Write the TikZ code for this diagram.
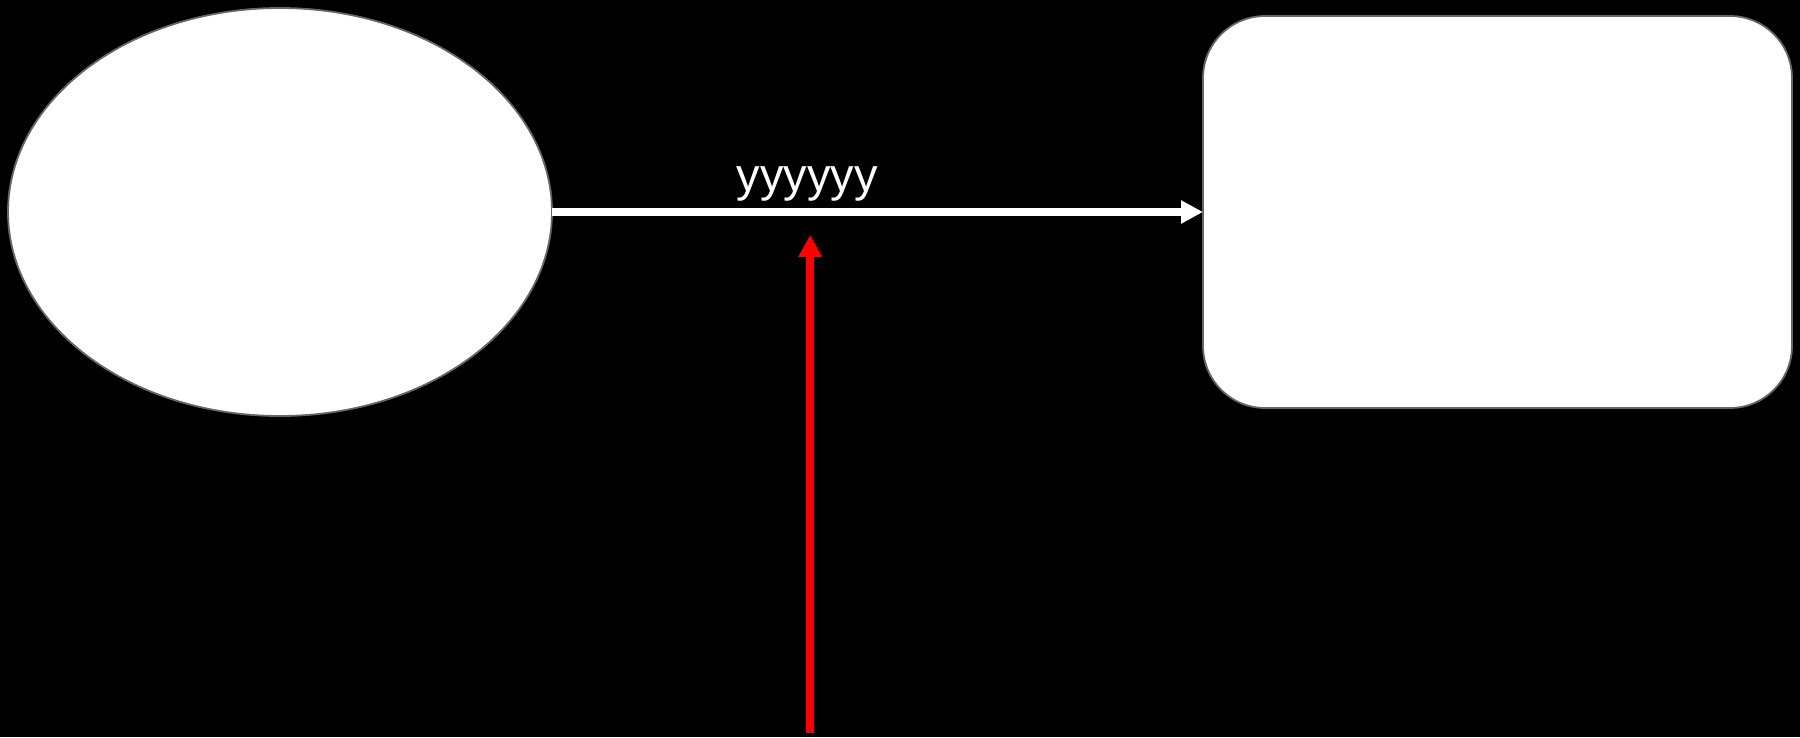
\documentclass[tikz,border=0pt]{standalone}
\usepackage{fontspec}
\setmainfont{Liberation Sans}
\usetikzlibrary{arrows.meta,shapes.geometric}
\begin{document}
\begin{tikzpicture}[x=1pt,y=-1pt,
  shapebox/.style={draw=black!60, fill=white, line width=1.8pt, inner sep=0pt, outer sep=0pt},
  conn/.style={line width=#1, -{Triangle[length=22pt,width=22pt]}},
  lbltext/.style={text=white, font=\fontsize{47}{56}\selectfont, inner sep=0pt}]
\fill[black] (0,0) rectangle (1800,737);
\useasboundingbox (0,0) rectangle (1800,737);
\node[shapebox, ellipse, minimum width=544pt, minimum height=408pt] (ell) at (280,212) {};
\node[shapebox, rectangle, rounded corners=62pt, minimum width=589pt, minimum height=392pt] (box) at (1497.5,212) {};
\draw[conn=7.5pt, white] (ell.east) -- (box.west);
\node[lbltext, anchor=base] (lbl) at (807,191) {yyyyyy};
\coordinate (rs) at (810,733);
\coordinate (re) at (810,235);
\draw[conn=8pt, red] (rs) -- (re);
\end{tikzpicture}
\end{document}
